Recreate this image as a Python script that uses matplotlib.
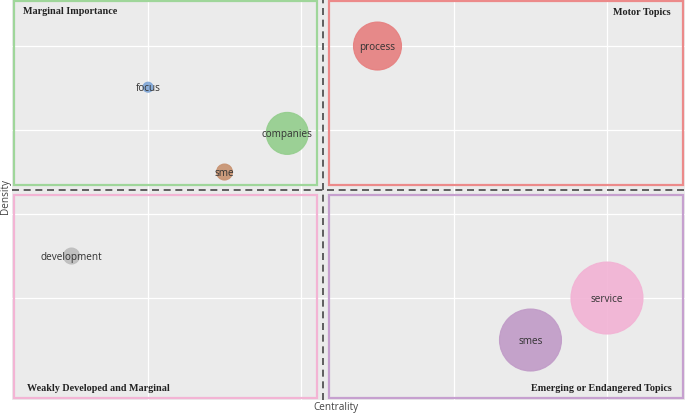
import matplotlib
matplotlib.use("Agg")
import matplotlib.pyplot as plt
from matplotlib.patches import Rectangle

# ---- data ----
labels = ["focus", "companies", "sme", "process", "development", "service", "smes"]
centrality = [1.0, 1.91, 1.50, 2.50, 0.50, 4.00, 3.50]
density = [3.51, 2.96, 2.50, 4.00, 1.50, 1.00, 0.50]
bubble_radius = [5, 21, 8, 24, 8, 36, 31]   # relative bubble size (radius)
colors = ["#7ea5d6", "#93cd8c", "#c7916f", "#e67e7e", "#bdbdbd", "#f2b2d4", "#c09ac7"]

centrality_center = 2.145
density_center = 2.286

quadrant_titles = ["Marginal Importance", "Motor Topics",
                   "Weakly Developed and Marginal", "Emerging or Endangered Topics"]
quadrant_colors = ["#9fd69a", "#ec8a8a", "#f3b4d4", "#c6a0cf"]

W, H, DPI = 685, 414, 100
fig = plt.figure(figsize=(W / DPI, H / DPI), dpi=DPI)
ax_l, ax_r, ax_t, ax_b = 12, 685, 0, 401
ax = fig.add_axes([ax_l / W, 1 - ax_b / H, (ax_r - ax_l) / W, (ax_b - ax_t) / H])
ax.set_facecolor("#ebebeb")

xlim = (0.111, 4.51)
ylim = (-0.214, 4.56)
ax.set_xlim(*xlim)
ax.set_ylim(*ylim)

# grid
for gx in [1, 2, 3, 4]:
    ax.axvline(gx, color="white", lw=0.9, zorder=0)
for gy in [1, 2, 3, 4]:
    ax.axhline(gy, color="white", lw=0.9, zorder=0)

cx, cy = centrality_center, density_center

# px -> data helpers for padding
pxx = (xlim[1] - xlim[0]) / (ax_r - ax_l)
pxy = (ylim[1] - ylim[0]) / (ax_b - ax_t)

edge_pad_x, edge_pad_y = 1.5 * pxx, 2 * pxy
gap_x, gap_y = 6 * pxx, 5 * pxy

rects = [
    (xlim[0] + edge_pad_x, cy + gap_y, cx - gap_x, ylim[1] - edge_pad_y),
    (cx + gap_x, cy + gap_y, xlim[1] - 2.5 * pxx, ylim[1] - edge_pad_y),
    (xlim[0] + edge_pad_x, ylim[0] + edge_pad_y, cx - gap_x, cy - gap_y),
    (cx + gap_x, ylim[0] + edge_pad_y, xlim[1] - 2.5 * pxx, cy - gap_y),
]
for (x0, y0, x1, y1), c in zip(rects, quadrant_colors):
    ax.add_patch(Rectangle((x0, y0), x1 - x0, y1 - y0, fill=False,
                           edgecolor=c, lw=1.6, zorder=1))

# dashed center lines
ax.axvline(cx, color="#5e5e5e", lw=1.4, ls=(0, (3.6, 2.4)), zorder=2)
ax.axhline(cy, color="#5e5e5e", lw=1.4, ls=(0, (3.6, 2.4)), zorder=2)

# bubbles
sizes = [(2 * r * 72 / DPI) ** 2 for r in bubble_radius]
ax.scatter(centrality, density, s=sizes, c=colors, alpha=0.9,
           edgecolors=colors, linewidths=0.8, zorder=3)
for lab, x, y in zip(labels, centrality, density):
    ax.text(x, y, lab, ha="center", va="center", fontsize=7.2,
            family="Open Sans", color="#333333", zorder=4)

# quadrant titles
tf = dict(family="Liberation Serif", fontweight="bold", fontsize=7.3, color="#222222", zorder=5)
ax.text(xlim[0] + 11 * pxx, ylim[1] - 11 * pxy, quadrant_titles[0], ha="left", va="center", **tf)
ax.text(xlim[1] - 14 * pxx, ylim[1] - 12 * pxy, quadrant_titles[1], ha="right", va="center", **tf)
ax.text(xlim[0] + 15 * pxx, ylim[0] + 12 * pxy, quadrant_titles[2], ha="left", va="center", **tf)
ax.text(xlim[1] - 13 * pxx, ylim[0] + 12 * pxy, quadrant_titles[3], ha="right", va="center", **tf)

ax.set_xticks([])
ax.set_yticks([])
for s in ax.spines.values():
    s.set_visible(False)

fig.text(336 / W, 1 - 408 / H, "Centrality", ha="center", va="center",
         fontsize=7.2, family="Open Sans", color="#444444")
fig.text(5 / W, 1 - 197 / H, "Density", ha="center", va="center", rotation=90,
         fontsize=7.2, family="Open Sans", color="#444444")

fig.savefig("out.png", dpi=DPI)
